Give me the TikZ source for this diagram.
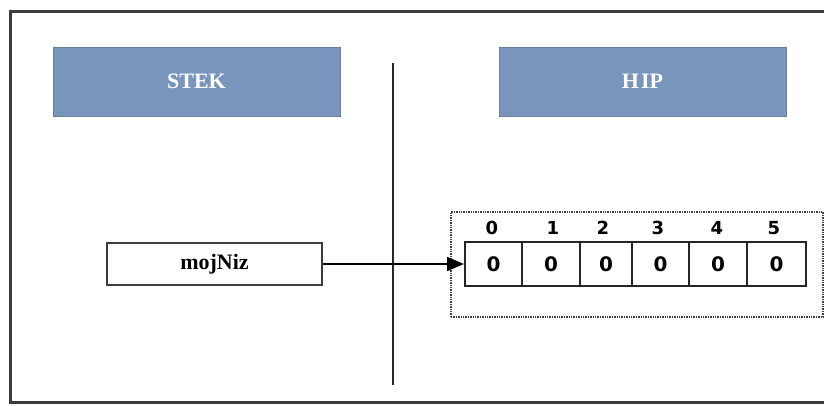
\documentclass[tikz,border=0pt]{standalone}
\usepackage{fontspec}
\setmainfont{Liberation Serif}
\newfontfamily\digitfont{DejaVu Sans}
\usetikzlibrary{arrows.meta}
\definecolor{hdrblue}{HTML}{7A95BC}
\definecolor{framegray}{HTML}{3C3C3C}
\begin{document}
\begin{tikzpicture}[x=1pt,y=-1pt,
  header/.style={draw=hdrblue!85!black,line width=0.6pt,fill=hdrblue,text=white,
    font=\fontsize{22}{22}\selectfont\bfseries,minimum width=287pt,minimum height=69pt,inner sep=0pt},
  varbox/.style={draw=framegray,line width=2.2pt,fill=white,
    font=\fontsize{22}{22}\selectfont\bfseries,minimum width=215pt,minimum height=42pt,inner sep=0pt},
  cell/.style={draw=black!85,line width=2pt,fill=white,minimum height=44pt,inner sep=0pt,
    font=\digitfont\bfseries\fontsize{20}{20}\selectfont},
  idx/.style={font=\digitfont\bfseries\fontsize{18}{18}\selectfont,inner sep=0pt},
  conn/.style={line width=2pt,-{Triangle[length=17pt,width=14pt]}}
]
\useasboundingbox (0,0) rectangle (824,405);
\fill[white] (0,0) rectangle (824,405);
% outer frame
\draw[framegray,line width=3pt] (830,11) -- (10,11) -- (10,402) -- (830,402);
% headers
\node[header] (stek) at (196.5,81.5) {STEK};
\node[header] (hip) at (642.5,81.5) {H\kern2pt IP};
% divider
\coordinate (dtop) at (393,63);
\coordinate (dbot) at (393,385);
\draw[line width=2.2pt,black!85] (dtop) -- (dbot);
% heap frame
\node[draw=black!75,densely dotted,line width=1.4pt,minimum width=372pt,minimum height=105pt,inner sep=0pt] (heap) at (637,264.5) {};
% cells
\node[cell,minimum width=57pt] (c0) at (493.5,264) {0};
\node[cell,minimum width=58pt] (c1) at (551,264) {0};
\node[cell,minimum width=52pt] (c2) at (606,264) {0};
\node[cell,minimum width=57pt] (c3) at (660.5,264) {0};
\node[cell,minimum width=58pt] (c4) at (718,264) {0};
\node[cell,minimum width=59pt] (c5) at (776.5,264) {0};
% indices
\node[idx] (l0) at (492,228) {0};
\node[idx] (l1) at (553,228) {1};
\node[idx] (l2) at (603,228) {2};
\node[idx] (l3) at (658,228) {3};
\node[idx] (l4) at (717,228) {4};
\node[idx] (l5) at (774,228) {5};
% variable
\node[varbox] (moj) at (214.5,264) {mojNiz};
\draw[conn] (moj.east) -- (c0.west);
\end{tikzpicture}
\end{document}
